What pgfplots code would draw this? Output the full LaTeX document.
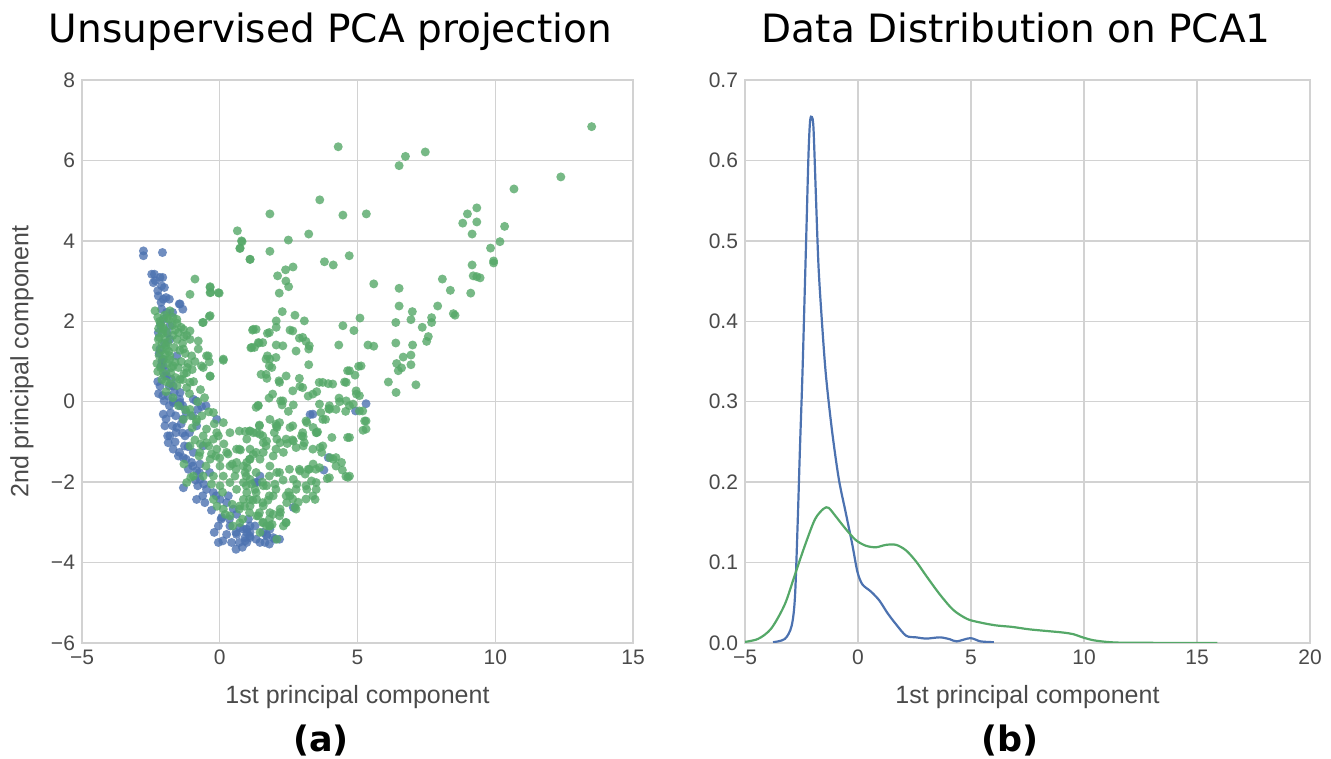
\documentclass[border=0pt]{standalone}
\usepackage{fontspec}
\setmainfont{Liberation Sans}
\newfontfamily\djv{DejaVu Sans}
\usepackage{pgfplots}
\usepackage{pgfplotstable}
\pgfplotsset{compat=1.18}
\definecolor{sbblue}{HTML}{4C72B0}
\definecolor{sbgreen}{HTML}{55A868}
\definecolor{gridc}{HTML}{D2D2D2}
\definecolor{txt}{HTML}{4A4A4A}

\pgfplotstableread{
x y
-2.77 3.75
-2.77 3.63
-2.08 3.71
-2.47 3.17
-2.41 2.96
-2.17 3.09
-2.11 2.88
-2.23 2.63
-2.05 2.55
-1.44 2.43
-2.11 2.30
-1.93 2.22
-2.05 2.05
-1.81 1.89
-2.23 1.72
-1.81 1.55
-2.17 1.31
-1.56 1.14
-2.05 0.89
-1.93 0.64
-1.69 0.39
-2.17 0.39
-1.87 0.14
-1.44 0.23
-0.96 0.06
-1.69 -0.02
-1.44 -0.02
-2.37 3.17
-2.34 3.01
-2.07 3.09
-2.01 2.84
-2.25 2.76
-1.95 2.59
-1.83 2.55
-2.13 2.47
-1.47 2.43
-1.34 2.30
-1.71 2.22
-2.07 1.06
-2.13 0.89
-2.01 0.64
-1.83 0.39
-1.65 0.23
-2.07 0.15
-1.46 0.06
-1.83 -0.10
-1.34 -0.10
-1.95 -0.43
-1.71 -0.60
-1.59 -0.77
-1.89 -0.85
-1.34 -0.43
-1.22 -0.27
-0.86 0.02
-0.80 -0.19
-0.50 -0.10
-0.98 -0.35
-1.10 -0.77
-1.28 -1.10
-1.46 -1.26
-1.22 -1.43
-0.98 -1.60
-0.74 -1.76
-0.37 -1.76
-0.80 -2.09
-0.62 -2.34
-0.13 -2.34
0.05 -2.92
0.35 -2.92
0.59 -3.25
0.71 -3.50
1.08 -3.34
1.32 -3.42
1.56 -3.25
1.80 -3.54
2.17 -3.42
0.59 -3.67
0.11 -3.46
-1.69 0.02
-1.44 -0.10
-0.66 -0.12
-0.11 -0.44
-2.05 -0.31
-1.99 -0.60
-1.81 -0.85
-1.56 -0.64
-1.26 -0.85
-1.50 -1.35
-1.32 -1.39
-1.02 -1.51
-1.14 -1.68
-0.84 -1.72
-0.72 -1.93
-0.48 -2.18
-0.23 -2.26
0.01 -2.43
0.31 -2.34
0.49 -2.67
0.61 -2.80
0.07 -2.88
0.37 -3.09
-0.05 -3.09
0.61 -3.30
0.98 -3.25
0.92 -3.46
0.43 -3.50
-0.05 -3.50
1.70 -3.34
1.46 -1.85
1.34 -2.01
-0.72 -1.55
-0.96 -1.26
-0.84 -0.60
-0.60 -1.10
-1.32 -2.14
-0.84 -2.43
-0.54 -2.51
0.25 -2.51
0.73 -3.13
1.04 -2.92
1.10 -3.09
-1.87 -1.02
-1.69 -1.18
1.94 -3.38
1.70 -3.30
1.46 -3.50
1.10 -3.25
0.92 -3.38
0.86 -3.17
1.28 -2.01
2.67 -2.63
0.98 -3.17
1.10 -3.38
0.98 -3.50
1.28 -3.09
1.82 -3.17
2.00 -3.42
1.64 -3.50
5.31 -0.05
3.28 -0.32
4.93 -0.23
3.78 -1.70
3.94 -1.39
3.38 -0.31
-2.20 1.20
-2.10 1.00
-1.95 0.75
-2.25 0.50
-1.75 0.55
-2.00 1.45
-1.90 1.70
-2.15 1.90
-1.60 -0.35
-1.40 -0.55
-2.22 0.20
-2.02 0.02
-1.78 -0.28
-1.62 -1.00
-1.35 -0.78
-1.15 -1.12
-0.88 -1.95
-0.58 -2.05
-0.30 -2.70
-0.20 -3.25
0.25 -3.30
0.82 -3.62
}\bluepts

\pgfplotstableread{
x y
13.50 6.84
12.38 5.59
10.68 5.29
10.34 4.36
10.17 3.98
9.83 3.82
9.94 3.50
9.94 3.45
9.33 4.82
8.99 4.67
9.33 4.47
8.82 4.44
9.16 4.17
9.16 3.40
9.20 3.13
9.33 3.11
9.45 3.08
9.11 2.70
8.08 3.05
8.37 2.77
7.91 2.38
8.48 2.19
8.54 2.15
7.69 2.09
7.69 1.97
7.35 1.85
7.57 1.62
7.51 1.50
6.51 2.82
6.51 2.38
6.99 2.24
6.94 2.04
6.39 1.97
6.39 1.46
7.00 1.41
6.94 1.16
6.66 1.11
6.94 0.92
6.60 0.84
6.48 0.77
6.42 0.95
6.12 0.49
7.12 0.42
6.40 0.23
7.46 6.21
6.74 6.10
6.51 5.87
4.30 6.34
3.63 5.02
1.82 4.67
4.47 4.64
5.32 4.67
3.23 4.17
2.49 4.02
0.64 4.25
0.81 3.98
0.74 3.82
1.10 3.54
1.82 3.74
3.80 3.48
4.12 3.40
4.70 3.63
5.59 2.93
2.10 3.13
2.39 3.28
2.66 3.35
2.40 3.00
2.50 2.86
2.16 2.70
2.27 2.24
2.73 2.15
3.07 2.01
2.05 2.01
2.05 1.85
1.73 1.70
2.55 1.78
1.19 1.78
1.43 1.46
1.13 1.34
2.05 1.41
2.89 1.58
3.13 1.50
3.23 1.31
4.47 1.89
4.87 1.77
5.09 2.08
4.32 1.41
5.38 1.41
5.59 1.38
1.73 1.14
1.82 1.06
1.68 1.06
1.89 0.85
1.50 0.68
1.71 0.58
2.15 0.52
3.23 0.92
2.89 0.58
2.91 0.38
3.21 0.14
3.52 0.25
3.61 0.48
3.94 0.45
4.53 0.49
4.64 0.77
4.91 0.66
5.04 0.88
4.96 0.19
4.84 -0.06
4.35 0.00
4.33 0.09
4.57 -0.24
5.26 -0.48
5.20 -0.71
2.21 0.02
2.26 -0.08
2.67 -0.08
2.49 -0.24
1.79 0.09
1.39 -0.09
1.32 -0.14
3.67 -0.27
3.84 -0.44
3.96 -0.17
3.13 -0.48
3.39 -0.64
3.55 -0.75
2.55 -0.64
2.07 -0.64
2.04 -0.56
1.44 -0.58
1.10 -0.73
0.92 -0.74
1.46 -0.81
4.07 -0.89
4.64 -0.89
3.03 -0.87
2.64 -0.95
2.45 -1.04
-0.35 2.86
-0.33 2.72
-0.02 2.70
-0.38 2.12
-0.62 1.97
0.13 1.03
-0.38 0.99
-0.42 1.14
-0.35 0.63
-0.60 0.85
4.58 -1.86
3.90 -1.91
4.42 -1.51
4.12 -1.43
4.00 -1.39
3.49 -1.68
3.21 -1.68
2.91 -1.72
2.67 -1.93
3.46 -2.43
3.16 -2.18
3.33 -1.97
2.31 -3.09
1.94 -2.80
2.19 -2.67
2.43 -2.51
2.55 -2.34
2.73 -2.63
1.58 -3.00
1.40 -2.84
1.82 -3.09
3.16 -0.52
3.52 -0.77
2.97 -0.85
2.67 -0.98
2.19 -1.02
1.70 -0.98
1.22 -0.77
3.64 -1.14
3.70 -1.26
3.03 -1.10
3.39 -1.55
2.31 -1.26
1.94 -1.35
1.58 -1.26
1.22 -1.31
0.98 -1.51
0.92 -1.76
1.28 -2.18
1.58 -2.09
1.10 -2.59
-1.08 -0.19
-0.84 -0.44
-0.48 -0.68
-0.23 -0.93
-0.11 -1.18
-0.35 -1.43
0.01 -1.60
0.13 -1.85
0.37 -2.01
0.61 -2.18
0.86 -2.01
1.10 -1.93
0.98 -2.26
1.34 -2.43
1.58 -2.59
1.82 -2.76
0.86 -2.43
0.61 -1.18
0.98 -0.93
1.34 -0.77
1.58 -1.02
2.07 -0.93
2.07 -0.60
1.82 -0.44
1.40 -0.10
1.10 -1.43
1.46 -1.43
1.82 -1.60
2.07 -1.76
1.70 -2.09
1.94 -2.34
1.34 -2.84
1.70 -3.09
-0.11 -0.77
-0.48 -1.02
-0.72 -1.26
-1.08 -1.10
-1.32 -0.44
-0.60 -1.85
-0.23 -1.85
0.01 -2.09
0.37 -1.60
0.25 -1.26
0.61 -1.51
0.37 -0.77
0.13 -0.52
-0.23 -0.27
1.10 -1.18
0.86 -1.60
0.13 -2.67
0.37 -2.84
-0.23 -2.43
-0.96 -1.85
-1.20 -2.01
0.73 -3.01
1.46 -3.25
2.07 -3.42
0.73 -2.59
-0.90 3.05
-1.08 2.67
-0.35 2.84
-0.05 2.71
-0.35 2.71
-2.35 2.26
-1.81 2.26
-1.56 2.05
-1.32 1.80
-1.08 1.76
-0.60 1.97
-0.35 2.14
-0.78 1.51
-0.48 1.14
-1.02 1.14
-0.66 0.89
-0.35 0.64
-1.20 0.72
-2.05 1.80
-2.23 1.55
-1.93 1.31
-1.69 0.89
-1.44 0.56
0.13 1.06
-1.08 1.55
-1.81 1.14
-1.32 1.31
-0.78 1.31
-2.05 0.72
-1.08 0.48
-1.50 1.72
0.79 4.00
0.73 3.81
1.10 3.54
1.16 1.35
1.22 1.80
1.40 1.47
0.71 -0.73
1.08 -0.73
1.44 -0.60
1.56 -0.85
1.98 -0.77
2.17 -0.52
2.65 -0.60
3.01 -0.77
3.50 -0.77
3.74 -0.44
3.98 -0.10
4.22 -0.19
4.71 -0.10
5.07 -0.23
5.31 -0.48
5.31 -0.68
4.71 -0.89
4.22 -1.39
3.74 -1.10
3.38 -1.18
3.07 -1.02
2.77 -1.14
2.41 -0.93
2.04 -1.18
1.68 -1.10
1.32 -1.26
1.08 -1.43
0.71 -1.18
0.59 -1.68
0.96 -1.85
1.32 -1.76
1.80 -1.85
2.17 -1.76
2.53 -1.68
2.89 -1.68
3.25 -1.68
3.62 -1.64
3.98 -1.89
4.71 -1.85
4.22 -1.60
3.50 -2.01
3.13 -2.09
2.77 -2.18
2.41 -2.34
2.04 -2.18
1.80 -2.34
1.56 -2.51
1.32 -2.26
1.08 -2.43
0.96 -2.09
0.71 -2.67
1.08 -2.76
1.44 -2.76
1.80 -2.92
2.17 -2.84
2.41 -3.01
2.77 -2.67
2.65 -2.42
3.38 -2.34
3.50 -2.18
3.13 -2.42
1.56 -3.01
1.80 -3.09
0.83 -2.92
0.47 -3.09
1.32 1.80
1.80 1.72
2.65 1.76
3.01 1.60
3.25 1.39
1.56 1.47
1.26 1.35
2.29 1.39
2.77 1.26
2.04 1.10
1.80 0.89
1.68 0.68
2.17 0.48
2.41 0.64
1.92 0.19
2.29 0.02
2.65 0.27
3.01 0.35
3.38 0.19
3.74 0.48
4.10 0.44
3.62 -0.06
3.98 -0.19
4.59 0.48
4.71 0.77
5.13 0.89
4.95 0.27
5.07 0.15
4.59 0.02
5.19 -0.23
-2.25 2.10
-2.15 1.95
-2.05 1.85
-1.95 1.75
-2.20 1.60
-2.10 1.45
-1.95 1.40
-1.85 1.25
-2.20 1.15
-2.05 1.05
-1.90 0.95
-1.75 0.85
-2.25 0.75
-2.10 0.55
-1.80 0.45
-1.60 0.60
-1.50 0.85
-1.40 1.00
-1.65 1.35
-1.55 1.55
-1.70 1.65
-1.35 1.45
-1.25 1.20
-1.15 0.95
-1.30 0.70
-1.00 0.80
-0.90 1.00
-2.00 2.15
-1.85 2.05
-1.70 2.10
-1.55 1.95
-1.40 1.85
-1.20 1.65
-2.30 1.35
-2.28 0.95
-1.95 0.25
-1.70 0.10
-1.50 -0.10
-1.25 -0.20
-1.05 -0.35
-0.85 -0.50
-1.20 0.35
-0.95 0.50
-0.70 0.30
-0.55 0.10
-0.40 -0.25
-0.20 -0.55
-0.05 -0.85
0.15 -1.05
0.30 -1.30
0.45 -1.55
-0.15 -1.35
-0.40 -1.10
-0.60 -0.85
-0.75 -1.35
-0.50 -1.60
-0.30 -2.05
0.10 -2.25
0.45 -2.55
0.20 -2.80
-0.10 -2.60
0.55 -1.85
0.75 -1.20
1.00 -1.65
1.15 -2.05
0.90 -2.60
1.20 -2.45
1.55 -2.00
1.75 -2.45
2.00 -2.05
2.30 -1.95
2.50 -2.25
2.80 -2.05
3.10 -1.80
2.85 -2.50
2.20 -2.75
2.40 -3.00
1.90 -3.05
4.65 -1.88
4.45 -1.70
-2.18 2.00
-2.08 1.70
-1.98 1.58
-1.88 1.48
-2.12 1.28
-1.98 1.18
-1.82 1.05
-1.62 0.98
-1.78 0.72
-1.55 0.40
-1.35 0.55
-1.18 0.85
-1.45 1.28
-1.30 1.62
-1.72 1.90
-1.62 1.78
-1.92 2.08
-2.22 1.82
-2.15 0.85
-1.95 0.50
-1.10 0.20
-0.80 0.00
-0.65 -0.35
-1.00 -0.65
-0.70 -1.05
-0.90 -0.95
-1.30 -1.55
-1.05 -1.88
-0.30 -1.30
0.00 -1.40
}\greenpts

\pgfplotstableread{
x y
-3.76 0.001
-3.24 0.005
-2.94 0.021
-2.79 0.057
-2.67 0.149
-2.57 0.241
-2.46 0.333
-2.37 0.424
-2.28 0.516
-2.19 0.608
-2.12 0.649
-2.04 0.654
-1.97 0.640
-1.87 0.562
-1.75 0.470
-1.60 0.401
-1.42 0.333
-1.15 0.264
-0.85 0.204
-0.55 0.163
-0.25 0.122
-0.03 0.089
0.19 0.073
0.57 0.064
0.94 0.053
1.31 0.037
1.69 0.023
2.13 0.009
2.58 0.007
3.03 0.0055
3.63 0.007
4.07 0.0046
4.37 0.002
4.97 0.006
5.42 0.002
6.01 0.001
}\bluekde

\pgfplotstableread{
x y
-5.10 0.001
-4.43 0.005
-3.84 0.018
-3.24 0.048
-2.79 0.085
-2.34 0.122
-1.90 0.154
-1.52 0.167
-1.30 0.168
-1.00 0.158
-0.55 0.142
-0.10 0.128
0.34 0.121
0.79 0.119
1.24 0.122
1.69 0.122
2.13 0.115
2.58 0.101
3.03 0.083
3.63 0.060
4.22 0.041
4.82 0.030
5.32 0.026
6.07 0.022
6.82 0.020
7.57 0.017
8.32 0.015
9.07 0.013
9.52 0.011
9.97 0.0067
10.42 0.0034
11.02 0.0013
11.62 0.0004
12.80 0.0002
14.30 0.0001
15.90 0.0
}\greenkde

\pgfplotsset{
  sb/.style={
    scale only axis,
    axis line style={gridc, line width=0.7pt},
    grid=major, major grid style={gridc, line width=0.7pt},
    major tick length=0pt,
    tick label style={font=\fontsize{10.5}{12}\selectfont, text=txt},
    label style={font=\fontsize{12.5}{14}\selectfont, text=txt},
    /pgf/number format/assume math mode=true,
    title style={font=\djv\fontsize{19.5}{22}\selectfont, anchor=base},
    xlabel style={at={(axis description cs:0.5,-0.107)}, anchor=base},
  },
  dot/.style={only marks, mark=*, mark size=2.25pt, color=#1,
    mark options={fill=#1, fill opacity=0.8, draw opacity=0}},
}

\begin{document}
\begin{tikzpicture}
\useasboundingbox (0,0) rectangle (665.5pt,-379.5pt);
\begin{axis}[sb, at={(41pt,-40pt)}, anchor=north west,
  width=275.5pt, height=281.5pt,
  xmin=-5, xmax=15, ymin=-6, ymax=8,
  xtick={-5,0,5,10,15}, xticklabels={−5,0,5,10,15},
  ytick={-6,-4,-2,0,2,4,6,8}, yticklabels={−6,−4,−2,0,2,4,6,8},
  xlabel={1st principal component}, ylabel={2nd principal component},
  ylabel style={at={(axis description cs:-0.109,0.5)}, anchor=center},
  title={Unsupervised PCA projection},
  title style={at={(axis description cs:0.451,1.0453)}},
  extra description/.code={
    \node[font=\djv\bfseries\fontsize{17.5}{20}\selectfont, anchor=base] at (0.434,-0.1936) {(a)};
  },
]
\addplot[dot=sbblue] table {\bluepts};
\addplot[dot=sbgreen] table {\greenpts};
\end{axis}
\begin{axis}[sb, at={(372.5pt,-40pt)}, anchor=north west,
  width=282.5pt, height=281.5pt,
  xmin=-5, xmax=20, ymin=0, ymax=0.7,
  xtick={-5,0,5,10,15,20}, xticklabels={−5,0,5,10,15,20},
  ytick={0,0.1,0.2,0.3,0.4,0.5,0.6,0.7}, yticklabels={0.0,0.1,0.2,0.3,0.4,0.5,0.6,0.7},
  xlabel={1st principal component},
  title={Data Distribution on PCA1},
  title style={at={(axis description cs:0.48,1.0453)}},
  extra description/.code={
    \node[font=\djv\bfseries\fontsize{17.5}{20}\selectfont, anchor=base] at (0.469,-0.1936) {(b)};
  },
]
\addplot[sbblue, line width=1.1pt, smooth] table {\bluekde};
\addplot[sbgreen, line width=1.1pt, smooth] table {\greenkde};
\end{axis}
\end{tikzpicture}
\end{document}
